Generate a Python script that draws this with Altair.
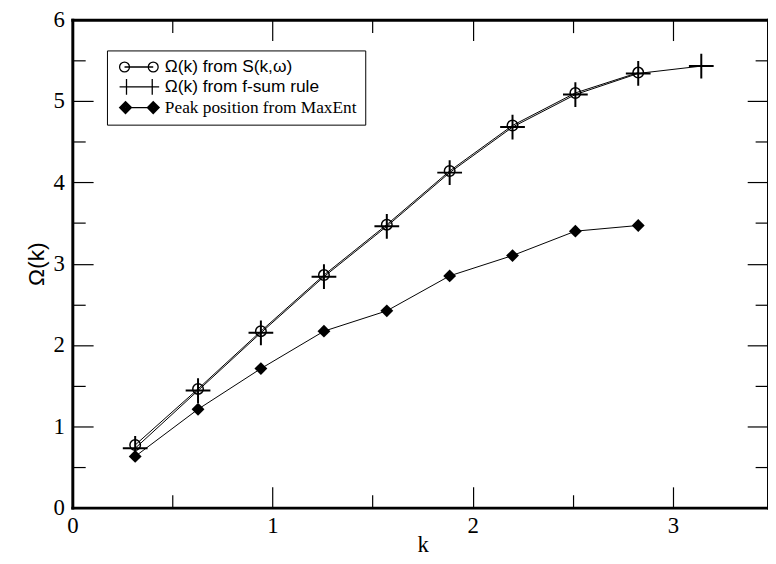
import altair as alt
import pandas as pd

# ---- data ----
k_values = [0.314, 0.628, 0.942, 1.257, 1.571, 1.885, 2.199, 2.513, 2.827, 3.142]
omega_sk = [0.77, 1.46, 2.17, 2.86, 3.48, 4.14, 4.70, 5.10, 5.35]
omega_fsum = [0.73, 1.44, 2.15, 2.84, 3.46, 4.12, 4.68, 5.08, 5.34, 5.43]
peak_maxent = [0.63, 1.21, 1.71, 2.17, 2.42, 2.85, 3.10, 3.40, 3.47]

series_names = ["Ω(k) from S(k,ω)", "Ω(k) from f-sum rule", "Peak position from MaxEnt"]

x_major = [0, 1, 2, 3]
x_minor = [0.5, 1.5, 2.5, 3.5]
y_major = [0, 1, 2, 3, 4, 5, 6]
y_minor = [0.5, 1.5, 2.5, 3.5, 4.5, 5.5]

df_s = pd.DataFrame({"k": k_values[:len(omega_sk)], "omega": omega_sk})
df_f = pd.DataFrame({"k": k_values[:len(omega_fsum)], "omega": omega_fsum})
df_p = pd.DataFrame({"k": k_values[:len(peak_maxent)], "omega": peak_maxent})
df_leg = pd.DataFrame({"series": series_names})

SERIF = "Liberation Serif"
SANS = "Liberation Sans"
MAJOR = 21
MINOR = 13

PLOT_W = 708   # full x range (right frame falls just past the window edge)
PLOT_H = 493

X_SCALE = alt.Scale(domain=[0, 3.5], nice=False, zero=False, range=[0, PLOT_W])
Y_SCALE = alt.Scale(domain=[0, 6], nice=False, zero=False)


def tick_axis(orient, values, tick, domain=False):
    kw = dict(orient=orient, values=values,
              tickSize=alt.ExprRef(expr=str(-tick)),
              tickColor="black", tickWidth=1.2, grid=False,
              labels=False, domain=domain, ticks=True, title=None)
    if domain:
        kw.update(domainColor="black", domainWidth=3, domainCap="square")
    return alt.Axis(**kw)


def label_axis(orient, values, title, title_font, label_pad, title_pad):
    return alt.Axis(orient=orient, values=values, ticks=False, tickSize=0, grid=False,
                    domain=True, domainColor="black", domainWidth=3, domainCap="square",
                    labels=True, labelFont=alt.ExprRef(expr="'Liberation Serif'"),
                    labelFontSize=23, labelColor="black",
                    labelPadding=label_pad, labelFlush=False, labelOverlap=False, format="d",
                    title=title, titleFont=title_font, titleFontSize=23,
                    titleFontWeight="normal", titleColor="black", titlePadding=title_pad)


def axis_host(xaxis, yaxis):
    """Empty layer whose only job is to carry a pair of axes."""
    return alt.Chart(df_s).transform_filter("false").mark_point(opacity=0).encode(
        x=alt.X("k:Q", scale=X_SCALE, axis=xaxis),
        y=alt.Y("omega:Q", scale=Y_SCALE, axis=yaxis),
    )


hosts = [
    axis_host(label_axis("bottom", x_major, "k", SERIF, 7, -4),
              label_axis("left", y_major, "Ω(k)", SANS, 8, 5)),
    axis_host(tick_axis("bottom", x_major, MAJOR), tick_axis("left", y_major, MAJOR)),
    axis_host(tick_axis("bottom", x_minor, MINOR), tick_axis("left", y_minor, MINOR)),
    axis_host(tick_axis("top", x_major, MAJOR, domain=True), tick_axis("right", y_major, MAJOR, domain=True)),
    axis_host(tick_axis("top", x_minor, MINOR), tick_axis("right", y_minor, MINOR)),
]

XE = alt.X("k:Q", scale=X_SCALE, axis=None)
YE = alt.Y("omega:Q", scale=Y_SCALE, axis=None)

# series 1: circles
line_s = alt.Chart(df_s).mark_line(color="black", strokeWidth=1).encode(x=XE, y=YE)
pts_s = alt.Chart(df_s).mark_point(shape="circle", filled=False, size=113, strokeWidth=1.5,
                                   color="black", opacity=1).encode(x=XE, y=YE)
# series 2: plus
line_f = alt.Chart(df_f).mark_line(color="black", strokeWidth=1).encode(x=XE, y=YE)
pts_f = alt.Chart(df_f).mark_point(shape="M-1,0L1,0M0,-1L0,1", filled=False, size=625, strokeWidth=2,
                                   color="black", opacity=1).encode(x=XE, y=YE)
# series 3: diamonds
line_p = alt.Chart(df_p).mark_line(color="black", strokeWidth=1).encode(x=XE, y=YE)
pts_p = alt.Chart(df_p).mark_point(shape="diamond", filled=True, size=169,
                                   color="black", opacity=1).encode(x=XE, y=YE)

# legend (symbols drawn as line + two markers)
def circle(cx, r):
    return f"M{cx - r},0A{r},{r} 0 1,1 {cx + r},0A{r},{r} 0 1,1 {cx - r},0Z"

def diamond(cx, r):
    return f"M{cx - r},0L{cx},{-r}L{cx + r},0L{cx},{r}Z"

S = -4  # horizontal shift of the legend samples
leg_circle = f"M{5 + S},0L{34 + S},0" + circle(5 + S, 5) + circle(34 + S, 5)
leg_plus = f"M{0 + S},0L{40 + S},0M{7 + S},-8L{7 + S},8M{33 + S},-8L{33 + S},8"
leg_diamond = f"M{6 + S},0L{34 + S},0" + "".join(diamond(6 + S, r) + diamond(34 + S, r) for r in [6, 5, 4, 3, 2, 1])

legend_layer = alt.Chart(df_leg).transform_filter("false").mark_point(
    filled=False, color="black", opacity=1
).encode(
    shape=alt.Shape("series:N",
                    scale=alt.Scale(domain=series_names, range=[leg_circle, leg_plus, leg_diamond]),
                    legend=alt.Legend(
                        orient="none", legendX=35, legendY=31, title=None,
                        symbolSize=4, symbolStrokeWidth=1.3, symbolStrokeColor="black",
                        symbolFillColor="transparent", symbolOpacity=1,
                        labelFont=alt.ExprRef(expr="datum.label == 'Peak position from MaxEnt' ? 'Liberation Serif' : 'Liberation Sans'"),
                        labelFontSize=17.5, labelColor="black", labelOffset=33, labelLimit=400,
                        rowPadding=0, padding=8, strokeColor="black", fillColor="white",
                        cornerRadius=0))
)

chart = alt.layer(*hosts, line_s, pts_s, line_f, pts_f, line_p, pts_p, legend_layer).resolve_axis(
    x="independent", y="independent"
).properties(
    width=703, height=PLOT_H,
    padding={"left": 65, "top": 9, "right": 0, "bottom": 46},
    autosize=alt.AutoSizeParams(type="none"),
    background="white",
).configure(font=SERIF).configure_view(stroke=None)

chart.save("out.html", embed_options={"renderer": "svg", "actions": False})
